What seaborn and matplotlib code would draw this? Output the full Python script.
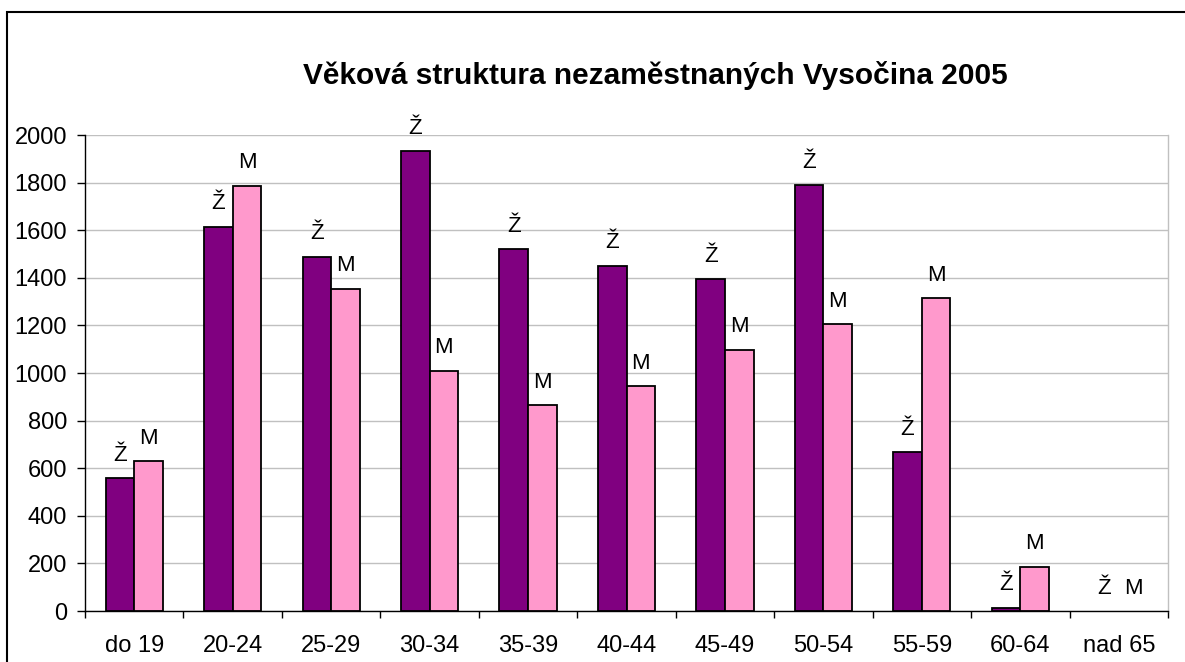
import matplotlib
matplotlib.use("Agg")
import matplotlib.pyplot as plt
import matplotlib.patches as mpatches
import seaborn as sns
import pandas as pd

categories = ["do 19", "20-24", "25-29", "30-34", "35-39", "40-44",
              "45-49", "50-54", "55-59", "60-64", "nad 65"]
zeny = [558, 1614, 1489, 1932, 1521, 1450, 1394, 1789, 668, 13, 0]
muzi = [629, 1786, 1354, 1009, 864, 944, 1097, 1204, 1314, 186, 0]
series = ["Ž", "M"]
title = "Věková struktura nezaměstnaných Vysočina 2005"

sns.set_theme(style="white")
plt.rcParams["font.family"] = ["Liberation Sans", "DejaVu Sans"]

df = pd.DataFrame({
    "kat": categories * 2,
    "pocet": zeny + muzi,
    "pohlavi": [series[0]] * len(categories) + [series[1]] * len(categories),
})

fig = plt.figure(figsize=(11.85, 6.62), dpi=100)
ax = fig.add_axes([85 / 1185, 1 - 611 / 662, (1168 - 85) / 1185, (611 - 135) / 662])

sns.barplot(data=df, x="kat", y="pocet", hue="pohlavi", order=categories,
            hue_order=series, palette=["#800080", "#FF99CC"], width=0.58,
            gap=0, edgecolor="black", linewidth=1.3, saturation=1,
            legend=False, ax=ax, zorder=3)

for cont, lab in zip(ax.containers, series):
    for p in cont:
        if p.get_height() == 0:
            p.set_linewidth(0)
    ax.bar_label(cont, labels=[lab] * len(cont), padding=9, fontsize=16,
                 color="black")

ax.set_ylim(0, 2000)
ax.set_xlim(-0.5, len(categories) - 0.5)
ax.set_yticks(range(0, 2001, 200))
ax.yaxis.grid(True, color="#C0C0C0", linewidth=1.0, zorder=0)
ax.set_axisbelow(True)
ax.set_xlabel("")
ax.set_ylabel("")

ax.set_xticks([i for i in range(len(categories))])
ax.set_xticklabels(categories)
ax.tick_params(axis="x", length=0, pad=17, labelsize=17, colors="black")
ax.set_xticks([i - 0.5 for i in range(len(categories) + 1)], minor=True)
ax.tick_params(axis="x", which="minor", length=5, width=1, color="black",
               direction="out", bottom=True)
ax.tick_params(axis="y", length=6, width=1, color="black", direction="out",
               left=True, pad=7, labelsize=17, labelcolor="black")

for side in ["left", "bottom"]:
    ax.spines[side].set_color("black")
    ax.spines[side].set_linewidth(1.0)
ax.spines["top"].set_visible(False)
ax.spines["right"].set_color("#C0C0C0")
ax.spines["right"].set_linewidth(1.0)
ax.spines["right"].set_visible(True)

fig.text(655 / 1185, 1 - 75 / 662, title, ha="center", va="center",
         fontsize=21.5, fontweight="bold", color="black")

frame = mpatches.Rectangle((7 / 1185, -0.05), 1.2, 1 - 12 / 662 + 0.05,
                           transform=fig.transFigure, fill=False,
                           edgecolor="black", linewidth=1.5, clip_on=False)
fig.patches.append(frame)

fig.savefig("out.png", dpi=100)
